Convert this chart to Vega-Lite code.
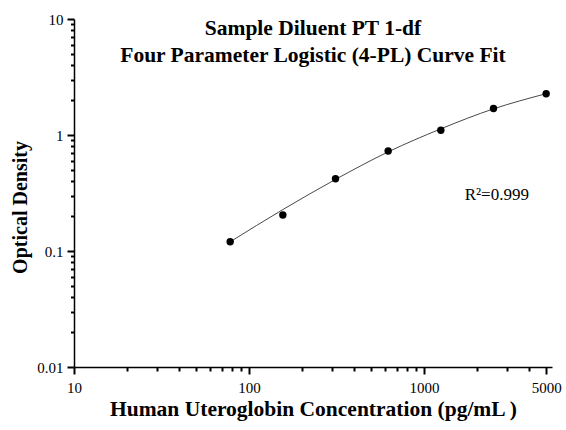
{
  "$schema": "https://vega.github.io/schema/vega-lite/v6.json",
  "autosize": "none",
  "width": 478,
  "height": 348,
  "padding": {"left": 74, "top": 19, "right": 14, "bottom": 63},
  "background": "white",
  "config": {
    "view": {"stroke": null},
    "font": "Liberation Serif",
    "axis": {"grid": false, "domainColor": "black", "labelColor": "black", "titleColor": "black", "labelFont": "Liberation Serif", "titleFont": "Liberation Serif", "domainWidth": 1.5}
  },
  "title": {
    "text": ["Sample Diluent PT 1-df", "Four Parameter Logistic (4-PL) Curve Fit"],
    "font": "Liberation Serif",
    "fontSize": 21.5,
    "fontWeight": "bold",
    "lineHeight": 27,
    "color": "black",
    "anchor": "middle",
    "offset": -54
  },
  "datasets": {
    "points": [
      {"conc": 78.125, "od": 0.120},
      {"conc": 156.25, "od": 0.204},
      {"conc": 312.5, "od": 0.420},
      {"conc": 625, "od": 0.728},
      {"conc": 1250, "od": 1.10},
      {"conc": 2500, "od": 1.69},
      {"conc": 5000, "od": 2.27}
    ],
    "curve": [
      {"conc": 78.125, "od": 0.120},
      {"conc": 156.25, "od": 0.2275},
      {"conc": 312.5, "od": 0.414},
      {"conc": 625, "od": 0.715},
      {"conc": 1250, "od": 1.13},
      {"conc": 2500, "od": 1.68},
      {"conc": 5000, "od": 2.27}
    ],
    "label": [{"conc": 2612, "od": 0.304, "text": "R²=0.999"}]
  },
  "resolve": {"axis": {"x": "independent", "y": "independent"}},
  "layer": [
    {
      "data": {"name": "curve"},
      "mark": {"type": "line", "color": "#333333", "strokeWidth": 0.9, "interpolate": "monotone"},
      "encoding": {
        "x": {
          "field": "conc", "type": "quantitative",
          "scale": {"type": "log", "domain": [10, 5400], "nice": false},
          "axis": {
            "orient": "bottom",
            "title": "Human Uteroglobin Concentration (pg/mL )",
            "titleFontSize": 21.5, "titleFontWeight": "bold", "titlePadding": 3,
            "values": [10, 100, 1000, 5000], "format": "d",
            "labelFontSize": 15, "labelPadding": 6, "labelFlush": false, "labelOverlap": false,
            "ticks": true, "tickSize": 7, "tickWidth": 2, "tickColor": "black"
          }
        },
        "y": {
          "field": "od", "type": "quantitative",
          "scale": {"type": "log", "domain": [0.01, 10], "nice": false},
          "axis": {
            "orient": "left",
            "title": "Optical Density",
            "titleFontSize": 20, "titleFontWeight": "bold", "titlePadding": 6, "titleY": 188,
            "values": [0.01, 0.1, 1, 10], "format": "~g",
            "labelFontSize": 15, "labelPadding": 4, "labelFlush": false, "labelOverlap": false,
            "ticks": true, "tickSize": 7, "tickWidth": 2, "tickColor": "black"
          }
        }
      }
    },
    {
      "data": {"name": "points"},
      "mark": {"type": "point", "filled": true, "color": "black", "size": 55, "opacity": 1},
      "encoding": {
        "x": {
          "field": "conc", "type": "quantitative",
          "axis": {
            "orient": "bottom", "title": null, "labels": false, "domain": false,
            "values": [20, 30, 40, 50, 60, 70, 80, 90, 200, 300, 400, 500, 600, 700, 800, 900, 2000, 3000, 4000],
            "ticks": true, "tickSize": 4, "tickWidth": 2, "tickColor": "black"
          }
        },
        "y": {
          "field": "od", "type": "quantitative",
          "axis": {
            "orient": "left", "title": null, "labels": false, "domain": false,
            "values": [0.02, 0.03, 0.04, 0.05, 0.06, 0.07, 0.08, 0.09, 0.2, 0.3, 0.4, 0.5, 0.6, 0.7, 0.8, 0.9, 2, 3, 4, 5, 6, 7, 8, 9],
            "ticks": true, "tickSize": 3.5, "tickWidth": 2, "tickColor": "black"
          }
        }
      }
    },
    {
      "data": {"name": "label"},
      "mark": {"type": "text", "font": "Liberation Serif", "fontSize": 17, "color": "black", "align": "center", "baseline": "middle"},
      "encoding": {
        "x": {"field": "conc", "type": "quantitative", "axis": null},
        "y": {"field": "od", "type": "quantitative", "axis": null},
        "text": {"field": "text"}
      }
    }
  ]
}
